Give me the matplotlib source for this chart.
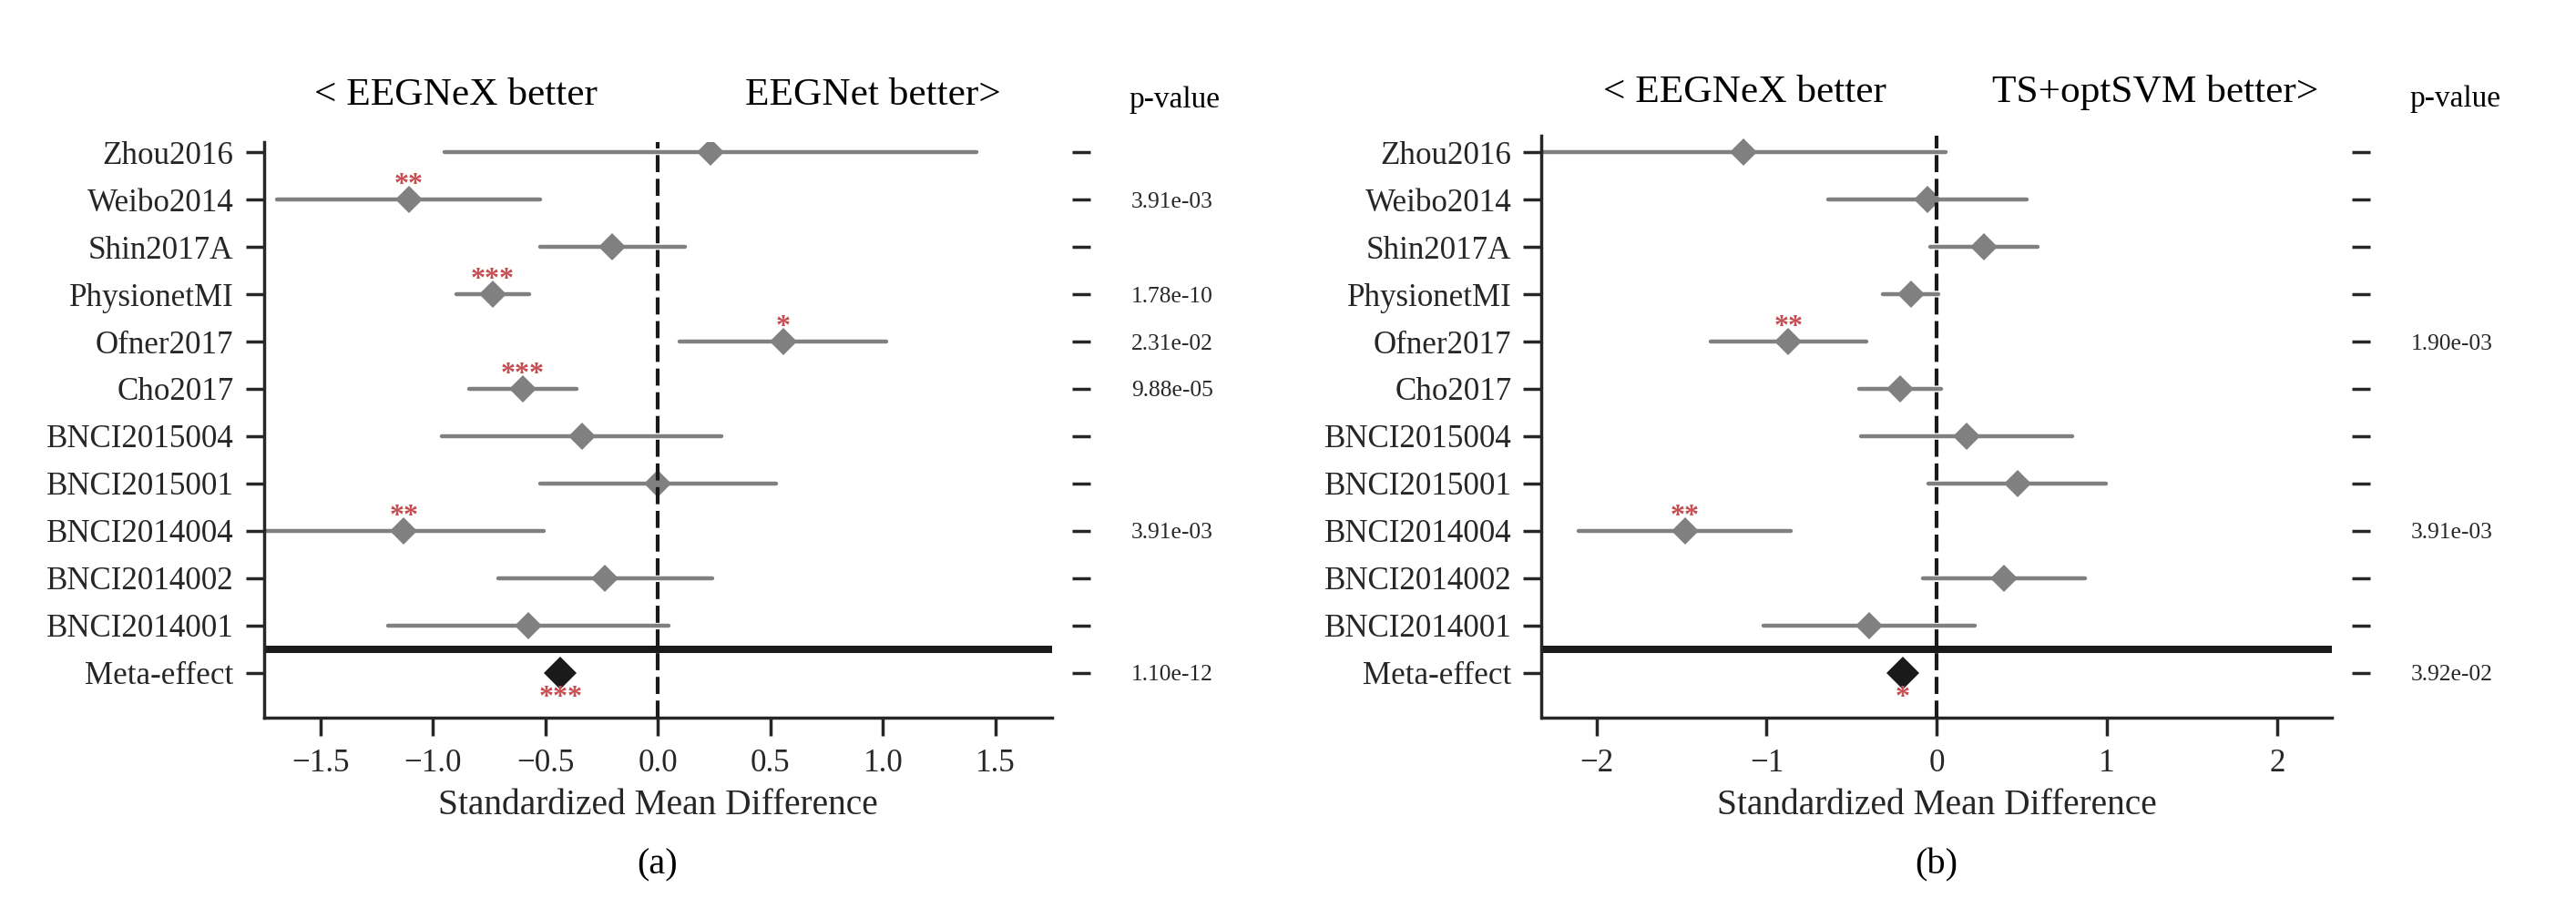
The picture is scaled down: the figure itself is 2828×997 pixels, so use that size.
import matplotlib
matplotlib.use('Agg')
import matplotlib.pyplot as plt
import numpy as np

plt.rcParams['font.family'] = ['Liberation Serif', 'DejaVu Serif']

# rows from top to bottom
datasets = ['Zhou2016', 'Weibo2014', 'Shin2017A', 'PhysionetMI', 'Ofner2017', 'Cho2017',
            'BNCI2015004', 'BNCI2015001', 'BNCI2014004', 'BNCI2014002', 'BNCI2014001']
meta_label = 'Meta-effect'

# (a) EEGNeX vs EEGNet
smd_a = [0.233, -1.108, -0.202, -0.734, 0.557, -0.600, -0.338, 0.000, -1.129, -0.235, -0.575]
ci_low_a = [-0.950, -1.693, -0.524, -0.896, 0.098, -0.841, -0.961, -0.524, -1.752, -0.710, -1.198]
ci_high_a = [1.416, -0.524, 0.120, -0.572, 1.016, -0.360, 0.284, 0.524, -0.506, 0.240, 0.047]
meta_a = -0.433
pval_a = [None, 3.91e-03, None, 1.78e-10, 2.31e-02, 9.88e-05, None, None, 3.91e-03, None, None]
meta_pval_a = 1.10e-12

# (b) EEGNeX vs TS+optSVM
smd_b = [-1.136, -0.053, 0.276, -0.151, -0.872, -0.214, 0.175, 0.473, -1.481, 0.394, -0.399]
ci_low_b = [-2.322, -0.636, -0.041, -0.315, -1.328, -0.454, -0.444, -0.050, -2.106, -0.084, -1.020]
ci_high_b = [0.050, 0.531, 0.593, 0.012, -0.415, 0.026, 0.795, 0.996, -0.857, 0.872, 0.223]
meta_b = -0.199
pval_b = [None, None, None, None, 1.90e-03, None, None, None, 3.91e-03, None, None]
meta_pval_b = 3.92e-02

W, H = 2828, 997
DPI = 200
DARK = '#262626'
RED = '#c44e52'


def stars(p):
    if p is None:
        return ''
    if p < 0.001:
        return '***'
    if p < 0.01:
        return '**'
    if p < 0.05:
        return '*'
    return ''


def px_box(left, top, right, bottom):
    # pixel box -> figure fraction rect
    return [left / W, 1 - bottom / H, (right - left) / W, (bottom - top) / H]


def draw_forest(fig, rect, ytop, smd, lo, hi, meta, pvals, meta_p):
    ax = fig.add_axes(rect)
    n = len(smd)
    y = np.arange(n + 1)

    # confidence intervals and point estimates
    ax.hlines(y[:n], lo, hi, color='grey', lw=1.6, capstyle='round', zorder=2)
    ax.plot(smd, y[:n], 'D', color='grey', ms=7.4, mew=0, zorder=3)
    ax.plot([meta], [y[n]], 'D', color='#1a1a1a', ms=9, mew=0, zorder=3)

    # separator and zero line
    ax.axhline(n - 0.5, color='#1a1a1a', lw=2.9, zorder=1)
    ax.axvline(0, color='#1a1a1a', lw=1.5, ls=(0, (4.5, 1.75)), zorder=5)

    # significance stars
    for i, p in enumerate(pvals):
        s = stars(p)
        if s:
            ax.text(smd[i], y[i] - 0.15, s, ha='center', va='baseline', color=RED,
                    fontsize=11.5, fontweight='bold', zorder=6)
    ax.text(meta, y[n] + 0.68, stars(meta_p), ha='center', va='baseline', color=RED,
            fontsize=11.5, fontweight='bold', zorder=6)

    lim = max(np.max(np.abs(lo)), np.max(np.abs(hi)))
    ax.set_xlim(-lim, lim)
    ax.set_ylim(n + 0.95, ytop)
    ax.set_yticks(y)
    ax.set_yticklabels(datasets + [meta_label])

    for side in ['top', 'right']:
        ax.spines[side].set_visible(False)
    for side in ['left', 'bottom']:
        ax.spines[side].set_linewidth(1.25)
        ax.spines[side].set_color(DARK)
    ax.tick_params(axis='both', length=7.2, width=1.25, color=DARK, labelcolor=DARK,
                   labelsize=12.6)
    ax.tick_params(axis='y', pad=4.7)
    ax.tick_params(axis='x', pad=5)
    ax.set_xlabel('Standardized Mean Difference', fontsize=14.2, color=DARK, labelpad=4)

    # p-value column on a twin axis
    ax2 = ax.twinx()
    ax2.set_ylim(ax.get_ylim())
    ax2.set_yticks(y)
    ax2.set_yticklabels(['%.2e' % p if p is not None else '' for p in pvals] + ['%.2e' % meta_p])
    for side in ax2.spines:
        ax2.spines[side].set_visible(False)
    ax2.spines['right'].set_position(('outward', 8))
    ax2.tick_params(axis='y', length=7.2, width=1.25, color=DARK, labelcolor=DARK,
                    labelsize=9.2, pad=16)
    return ax


fig = plt.figure(figsize=(W / DPI, H / DPI), dpi=DPI)

draw_forest(fig, px_box(289.5, 155.6, 1155, 788), -0.225,
            smd_a, ci_low_a, ci_high_a, meta_a, pval_a, meta_pval_a)
draw_forest(fig, px_box(1692.5, 148.9, 2560, 788), -0.354,
            smd_b, ci_low_b, ci_high_b, meta_b, pval_b, meta_pval_b)

# header texts
headers = [
    (500, 115, '< EEGNeX better', 15.6),
    (958, 115, 'EEGNet better>', 15.6),
    (1289, 118, 'p-value', 12),
    (1915, 111.7, '< EEGNeX better', 15.6),
    (2366, 111.7, 'TS+optSVM better>', 15.6),
    (2695, 117, 'p-value', 12),
]
for hx, hy, txt, size in headers:
    fig.text(hx / W, 1 - hy / H, txt, ha='center', va='baseline', fontsize=size, color='black')

fig.text(722 / W, 1 - 950 / H, '(a)', ha='center', va='center', fontsize=14.5, color='black')
fig.text(2126 / W, 1 - 950 / H, '(b)', ha='center', va='center', fontsize=14.5, color='black')

fig.savefig('out.png', dpi=DPI)
